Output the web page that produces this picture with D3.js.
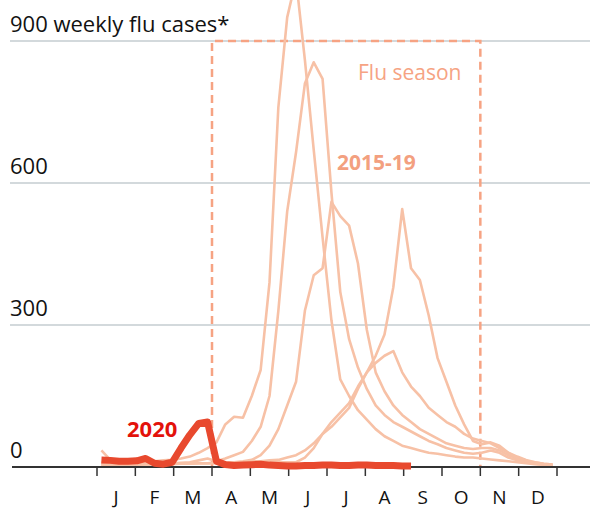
<!DOCTYPE html>
<html>
<head>
	<meta charset="utf-8">
	<title>flu</title>
	<script type="text/javascript" src="https://cdn.jsdelivr.net/npm/d3@7/dist/d3.min.js"></script>
	<style type="text/css">
		body{margin:0;background:#fff;}
		text{font-family:"Open Sans",sans-serif;}
	</style>
</head>
<body>
	<script type="text/javascript">
		var width=590,
			height=510;
		//月份标签
		var months=["J","F","M","A","M","J","J","A","S","O","N","D"];
		var yTicks=[0,300,600,900];
		var season=[3,10];	//Apr..Oct
		var seasonTop=900;
		//2020 weekly cases
		var y2020=[15,14,12,12,13,18,8,6,10,40,68,92,95,12,5,3,4,5,6,4,3,2,2,3,3,4,4,3,3,4,4,3,3,3,2,2];
		//2015-19 weekly cases, 52 weeks each
		var yA=[10,8,8,9,10,10,12,14,15,18,22,30,40,52,90,106,104,150,205,390,760,950,1030,860,670,485,310,185,150,120,100,80,65,55,45,40,35,30,28,25,22,20,20,18,16,14,12,10,8,6,5,4];
		var yB=[6,5,5,6,6,7,7,8,8,9,10,14,18,12,18,25,32,55,85,150,330,540,665,810,855,820,580,370,270,210,165,130,110,95,85,75,65,55,48,40,35,30,28,30,35,30,20,14,10,7,5,4];
		var yC=[5,5,5,5,6,6,6,6,7,7,7,8,8,8,9,10,12,15,25,45,80,130,180,330,405,420,560,530,510,430,290,200,160,130,110,95,80,70,60,50,45,40,38,40,40,35,25,18,12,8,5,3];
		var yD=[5,5,5,5,5,6,6,6,6,7,7,8,8,9,9,10,10,12,12,14,15,20,25,35,50,70,85,105,125,165,200,235,280,380,545,420,395,320,230,180,130,90,55,48,52,45,30,18,12,10,7,5];
		var yE=[35,15,8,6,6,6,6,7,7,7,8,8,8,9,9,9,10,10,10,10,10,10,10,20,40,70,95,115,135,170,200,220,235,245,200,170,150,125,110,95,85,70,60,55,50,40,30,22,15,10,7,5];
		var past=[yA,yB,yC,yD,yE];

		var svg=d3.select("body")
				.append("svg")
				.attr("width", width)
				.attr("height", height);

		//x: weeks over Jan..Dec, y: cases
		var x=d3.scaleLinear().domain([0,52]).range([97,557]);
		var xm=d3.scaleLinear().domain([0,12]).range([97,557]);
		var y=d3.scaleLinear().domain([0,900]).range([467,41]);

		//gridlines
		svg.selectAll(".grid")
			.data(yTicks.filter(function (d) {return d>0;}))
			.enter()
			.append("line")
			.attr("class", "grid")
			.attr("x1", 10)
			.attr("x2", width)
			.attr("y1", function (d) {return y(d);})
			.attr("y2", function (d) {return y(d);})
			.attr("stroke", "#d3d9dc")
			.attr("stroke-width", 2);

		svg.selectAll(".ylab")
			.data(yTicks)
			.enter()
			.append("text")
			.attr("class", "ylab")
			.attr("x", 10)
			.attr("y", function (d) {return y(d)-9;})
			.attr("font-size", 22)
			.attr("fill", "#121212")
			.text(function (d) {
				return d==900 ? "900 weekly flu cases*" : d;
			});

		//flu season box
		svg.append("path")
			.attr("d", "M"+xm(season[0])+","+y(0)+"V"+y(seasonTop)+"H"+xm(season[1])+"V"+y(0))
			.attr("fill", "none")
			.attr("stroke", "#f6a383")
			.attr("stroke-width", 2.5)
			.attr("stroke-dasharray", "8,5");

		var line=d3.line()
			.x(function (d, i) {return x(i+0.5);})
			.y(function (d) {return y(d);});

		svg.selectAll(".past")
			.data(past)
			.enter()
			.append("path")
			.attr("class", "past")
			.attr("d", line)
			.attr("fill", "none")
			.attr("stroke", "#f7c1a6")
			.attr("stroke-width", 2.6)
			.attr("stroke-linejoin", "round");

		//baseline + ticks
		svg.append("line")
			.attr("x1", 12)
			.attr("x2", width)
			.attr("y1", y(0))
			.attr("y2", y(0))
			.attr("stroke", "#333")
			.attr("stroke-width", 2);

		svg.selectAll(".tick")
			.data(d3.range(13))
			.enter()
			.append("line")
			.attr("class", "tick")
			.attr("x1", function (d) {return xm(d);})
			.attr("x2", function (d) {return xm(d);})
			.attr("y1", y(0))
			.attr("y2", y(0)+9)
			.attr("stroke", "#333")
			.attr("stroke-width", 1.5);

		svg.selectAll(".mlab")
			.data(months)
			.enter()
			.append("text")
			.attr("class", "mlab")
			.attr("x", function (d, i) {return xm(i+0.5);})
			.attr("y", 504)
			.attr("text-anchor", "middle")
			.attr("font-size", 19)
			.attr("fill", "#121212")
			.text(function (d) {return d;});

		svg.append("path")
			.datum(y2020)
			.attr("d", line)
			.attr("fill", "none")
			.attr("stroke", "#e8492e")
			.attr("stroke-width", 7)
			.attr("stroke-linejoin", "round");

		//labels
		svg.append("text")
			.attr("x", 358)
			.attr("y", 80)
			.attr("font-size", 21)
			.attr("fill", "#f6a383")
			.text("Flu season");
		svg.append("text")
			.attr("x", 337)
			.attr("y", 170)
			.attr("font-size", 21)
			.attr("font-weight", "bold")
			.attr("fill", "#f3a07f")
			.text("2015-19");
		svg.append("text")
			.attr("x", 127)
			.attr("y", 437)
			.attr("font-size", 22)
			.attr("font-weight", "bold")
			.attr("fill", "#e3120b")
			.text("2020");
	</script>
</body>
</html>
